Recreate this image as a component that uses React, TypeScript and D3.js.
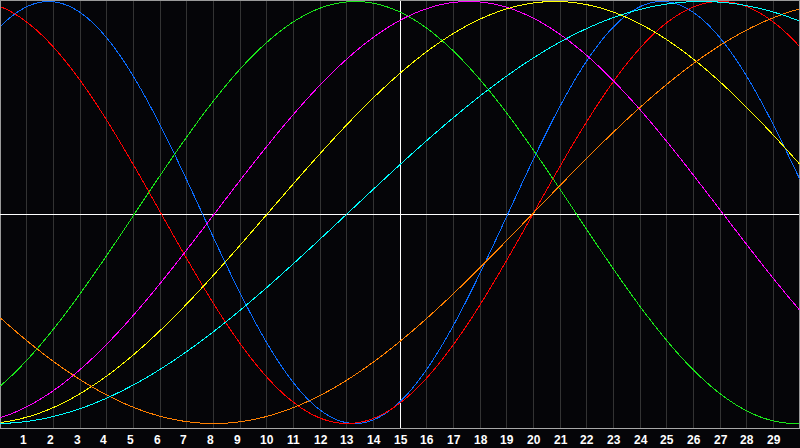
import React from "react";
import * as d3 from "d3";

// Day tick labels along the bottom axis
const dayLabels = [1, 2, 3, 4, 5, 6, 7, 8, 9, 10, 11, 12, 13, 14, 15, 16, 17, 18, 19, 20, 21, 22, 23, 24, 25, 26, 27, 28, 29];

// Cycle series: length in days and the day on which each cycle peaks
const cycleLengths = [23, 28, 33, 38, 43, 48, 53];
const peakDays = [24.8, 27.0, 13.31, 17.56, 20.8, 32.0, 26.3];
const cycleColors = ["#0a6cff", "#ff0000", "#19e619", "#ff00ff", "#ffff00", "#ff8000", "#00ffff"];

const dayDomain = [0, 30];
const markedDay = 15;

export default function App() {
  const W = 800;
  const H = 448;
  const plotBottom = 428;

  const x = d3.scaleLinear().domain(dayDomain).range([0, W]);
  const y = d3.scaleLinear().domain([-1, 1]).range([423.5, 1.5]);

  const samples = d3.range(0, W).map((px) => x.invert(px));

  const paths = cycleLengths.map((len, i) => {
    const peak = peakDays[i];
    const gen = d3
      .line<number>()
      .x((d) => x(d) + 0.5)
      .y((d) => y(Math.cos((2 * Math.PI * (d - peak)) / len)));
    return gen(samples) || "";
  });

  const midY = 214.5;

  return (
    <svg
      width={W}
      height={H}
      style={{ position: "absolute", left: 0, top: 0, display: "block", background: "#050508" }}
    >
      <rect x={0} y={0} width={W} height={H} fill="#050508" />
      {/* vertical day grid */}
      {dayLabels.map((d) => {
        const gx = Math.floor(x(d)) + 0.5;
        return (
          <line key={"g" + d} x1={gx} x2={gx} y1={1} y2={plotBottom} stroke="#333333" strokeWidth={1} shapeRendering="crispEdges" />
        );
      })}
      {/* borders */}
      <line x1={0} x2={W} y1={0.5} y2={0.5} stroke="#9a9a9a" shapeRendering="crispEdges" />
      <line x1={0.5} x2={0.5} y1={0} y2={plotBottom} stroke="#9a9a9a" shapeRendering="crispEdges" />
      <line x1={W - 0.5} x2={W - 0.5} y1={0} y2={plotBottom} stroke="#9a9a9a" shapeRendering="crispEdges" />
      <line x1={0} x2={W} y1={plotBottom + 0.5} y2={plotBottom + 0.5} stroke="#a8a8a8" shapeRendering="crispEdges" />
      {/* crosshair */}
      <line x1={0} x2={W - 1} y1={midY} y2={midY} stroke="#ffffff" shapeRendering="crispEdges" />
      <line
        x1={Math.floor(x(markedDay)) + 0.5}
        x2={Math.floor(x(markedDay)) + 0.5}
        y1={1}
        y2={plotBottom}
        stroke="#ffffff"
        shapeRendering="crispEdges"
      />
      {/* cycle curves */}
      {paths.map((p, i) => (
        <path key={"c" + i} d={p} fill="none" stroke={cycleColors[i]} strokeWidth={1} shapeRendering="crispEdges" />
      ))}
      {/* tick labels */}
      {dayLabels.map((d) => (
        <text
          key={"t" + d}
          x={Math.floor(x(d)) - 6}
          y={443.5}
          fill="#ffffff"
          fontFamily="'Liberation Sans', Arial, sans-serif"
          fontWeight="bold"
          fontSize={12}
        >
          {d}
        </text>
      ))}
    </svg>
  );
}
